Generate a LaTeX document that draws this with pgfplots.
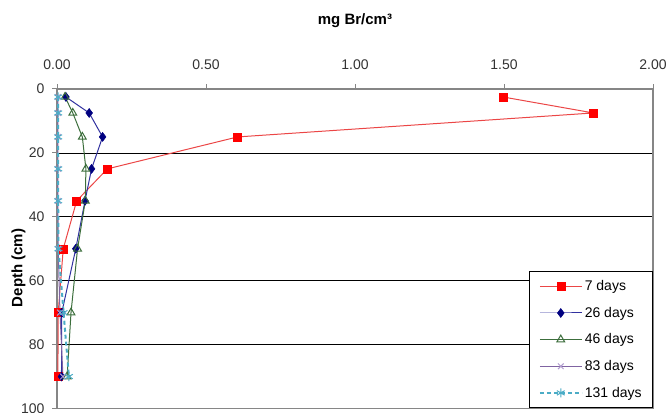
\documentclass[border=0pt]{standalone}
\usepackage{fontspec}
\setmainfont{Liberation Sans}
\usepackage{pgfplots}
\pgfplotsset{compat=1.18}
\usepackage{pgfplotstable}
\definecolor{axgray}{RGB}{134,134,134}
\definecolor{ser1}{RGB}{255,0,0}
\definecolor{ser1l}{RGB}{235,70,70}
\definecolor{ser2}{RGB}{0,0,128}
\definecolor{ser2l}{RGB}{50,50,160}
\definecolor{ser3}{RGB}{60,110,60}
\definecolor{ser4}{RGB}{128,100,162}
\definecolor{ser4m}{RGB}{175,155,205}
\definecolor{ser5}{RGB}{75,172,198}
\pgfplotstableread{
depth d7 d26 d46 d83 d131
2.5 1.497 0.030 0.027 0.003 0.004
7.5 1.800 0.108 0.053 0.003 0.004
15 0.606 0.153 0.085 0.003 0.004
25 0.169 0.116 0.097 0.003 0.004
35 0.066 0.094 0.095 0.003 0.004
50 0.021 0.063 0.069 0.004 0.005
70 0.004 0.016 0.047 0.010 0.022
90 0.003 0.015 0.034 0.020 0.040
}\brdata
\begin{document}
\begin{tikzpicture}[x=1pt,y=1pt]
\begin{axis}[
  at={(0,0)}, anchor=south west,
  scale only axis, width=596pt, height=319.5pt,
  xmin=0, xmax=2, ymin=0, ymax=100,
  y dir=reverse,
  xtick={0,0.5,1,1.5,2},
  ytick={0,20,40,60,80,100},
  xticklabel pos=upper, xtick pos=upper,
  ytick pos=left,
  tick align=outside,
  major tick length=5pt,
  tick style={axgray, line width=1pt},
  axis line style={axgray, line width=1.2pt},
  ymajorgrids, major grid style={black, line width=0.8pt},
  /pgf/number format/assume math mode=true,
  xticklabel style={/pgf/number format/.cd, fixed, fixed zerofill, precision=2},
  ticklabel style={font=\fontsize{14}{16}\selectfont, text=black!80},
  xticklabel shift=11pt,
  yticklabel shift=4pt,
  xlabel={mg Br/cm³},
  xlabel style={font=\fontsize{15}{17}\selectfont\bfseries, at={(axis description cs:0.5,1)}, anchor=base, yshift=64pt},
  legend cell align=left,
  legend style={at={(axis cs:2,57)}, anchor=north east, draw=black, line width=0.8pt, fill=white,
    font=\fontsize{14}{16}\selectfont, row sep=11pt, inner xsep=9pt, inner ysep=7pt},
  legend image code/.code={\draw[mark repeat=2,mark phase=2,#1] plot coordinates {(0pt,0pt) (21pt,0pt) (42pt,0pt)};},
]
\addplot[color=ser1l, line width=1pt, mark=square*, mark size=4pt, mark options={solid, draw=ser1, fill=ser1, line width=0.5pt}] table[x=d7, y=depth] {\brdata};
\addlegendentry{7 days}
\addplot[color=ser2l, line width=1pt, mark=diamond*, mark size=4.5pt, mark options={solid, draw=ser2, fill=ser2, line width=0.5pt}] table[x=d26, y=depth] {\brdata};
\addlegendentry{26 days}
\addplot[color=ser3, line width=1pt, mark=triangle, mark size=4.5pt, mark options={solid, draw=ser3, fill=white, line width=1pt}] table[x=d46, y=depth] {\brdata};
\addlegendentry{46 days}
\addplot[color=ser4, line width=1pt, mark=x, mark size=4pt, mark options={solid, draw=ser4m, line width=1pt}] table[x=d83, y=depth] {\brdata};
\addlegendentry{83 days}
\addplot[color=ser5, line width=2pt, dash pattern=on 4pt off 3pt, mark=asterisk, mark size=4.5pt, mark options={solid, draw=ser5, line width=1pt}] table[x=d131, y=depth] {\brdata};
\addlegendentry{131 days}
\end{axis}
\node[font=\fontsize{15}{17}\selectfont\bfseries, rotate=90, anchor=center] at (-38.5pt,140.5pt) {Depth (cm)};
\pgfresetboundingbox
\path[use as bounding box] (-57pt,-3.5pt) rectangle (614pt,408.5pt);
\end{tikzpicture}
\end{document}
